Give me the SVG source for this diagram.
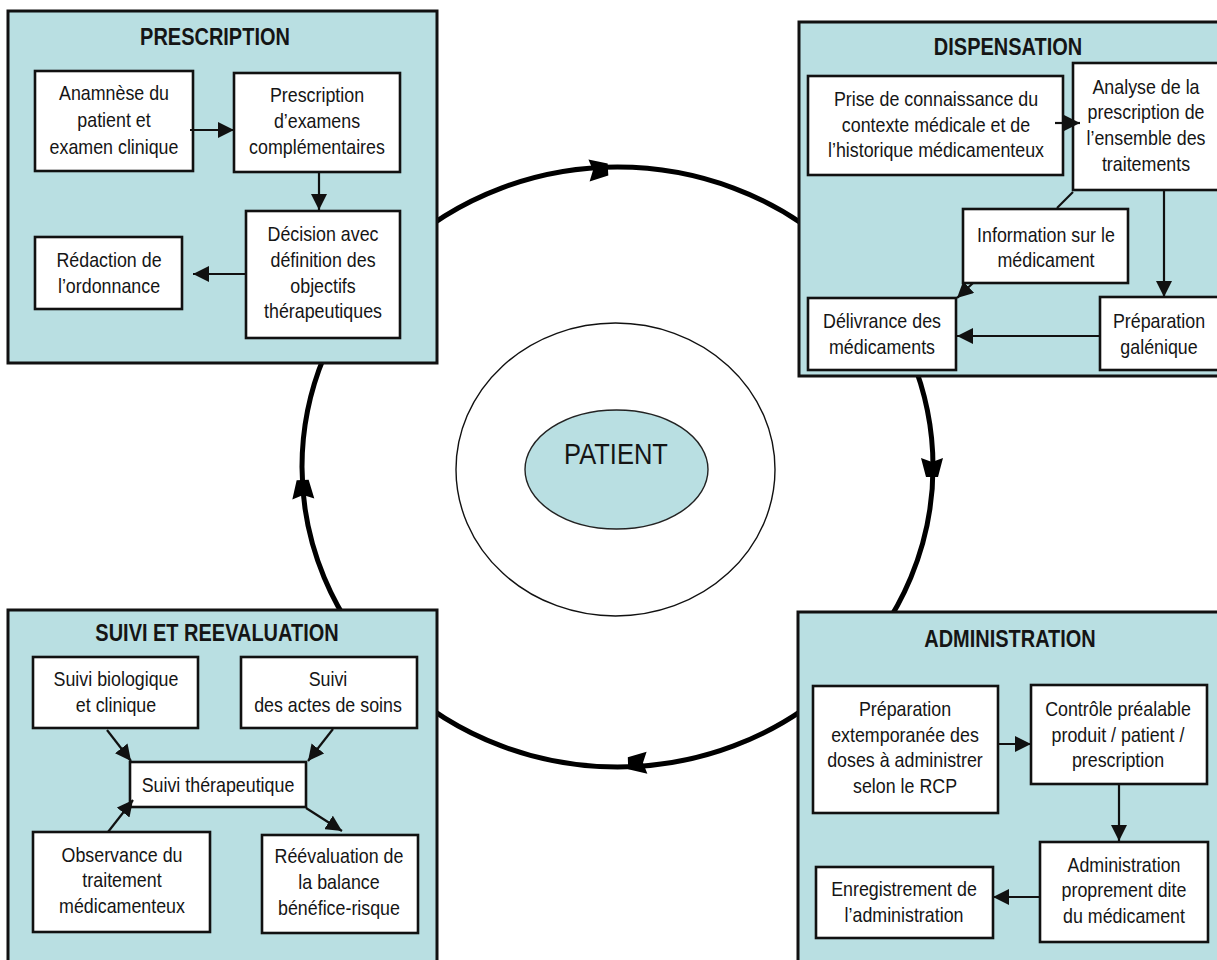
<svg xmlns="http://www.w3.org/2000/svg" width="1217" height="960" viewBox="0 0 1217 960">
<style>
.panel{fill:#b9dfe2;stroke:#111;stroke-width:3}
.box{fill:#fff;stroke:#111;stroke-width:2.6}
.t{font-family:"Liberation Sans",Arial,sans-serif;font-size:21px;fill:#151515;text-anchor:middle}
.h{font-family:"Liberation Sans",Arial,sans-serif;font-size:23.5px;font-weight:bold;fill:#151515;text-anchor:middle}
.c{stroke:#111;stroke-width:2.2;fill:none}
.ring{fill:none;stroke:#000;stroke-width:5}
</style>
<defs>
<marker id="ah" viewBox="0 0 16 16" refX="16" refY="8" markerWidth="16" markerHeight="16" markerUnits="userSpaceOnUse" orient="auto">
<path d="M0,0 L16,8 L0,16 z" fill="#111"/>
</marker>
<path id="ca" d="M-9,-11 L10,-6 L10,6 L-9,11 L-5,0 Z" fill="#000"/>
</defs>
<rect width="1217" height="960" fill="#fff"/>

<g id="cycle">
<ellipse class="ring" cx="617.5" cy="467" rx="315.5" ry="300"/>
<use href="#ca" transform="translate(598 170) rotate(-3)"/>
<use href="#ca" transform="translate(932 467) rotate(90)"/>
<use href="#ca" transform="translate(638 763) rotate(178)"/>
<use href="#ca" transform="translate(303 490) rotate(-92)"/>
</g>

<g id="patient">
<ellipse cx="615.5" cy="469.5" rx="159.5" ry="146.5" fill="#fff" stroke="#111" stroke-width="1.4"/>
<ellipse cx="616.5" cy="469.5" rx="91.5" ry="59.5" fill="#b9dfe2" stroke="#222" stroke-width="1.4"/>
<text class="t" style="font-size:30px" transform="translate(616 0) scale(.85 1)"><tspan x="0" y="464">PATIENT</tspan></text>
</g>

<g id="prescription">
<rect class="panel" x="8" y="11" width="429" height="352"/>
<text class="h" transform="translate(215 0) scale(.85 1)"><tspan x="0" y="45">PRESCRIPTION</tspan></text>
<g id="p-anamnese"><rect class="box" x="35" y="71" width="158" height="100"/>
<text class="t" transform="translate(114 0) scale(.85 1)"><tspan x="0" y="100">Anamnèse du</tspan><tspan x="0" y="127">patient et</tspan><tspan x="0" y="154">examen clinique</tspan></text></g>
<g id="p-examens"><rect class="box" x="234" y="73" width="166" height="99"/>
<text class="t" transform="translate(317 0) scale(.85 1)"><tspan x="0" y="102">Prescription</tspan><tspan x="0" y="128">d’examens</tspan><tspan x="0" y="154">complémentaires</tspan></text></g>
<g id="p-decision"><rect class="box" x="246" y="211" width="154" height="127"/>
<text class="t" transform="translate(323 0) scale(.85 1)"><tspan x="0" y="241">Décision avec</tspan><tspan x="0" y="267">définition des</tspan><tspan x="0" y="293">objectifs</tspan><tspan x="0" y="318">thérapeutiques</tspan></text></g>
<g id="p-redaction"><rect class="box" x="35" y="237" width="147" height="72"/>
<text class="t" transform="translate(109 0) scale(.85 1)"><tspan x="0" y="267">Rédaction de</tspan><tspan x="0" y="293">l’ordonnance</tspan></text></g>
</g>

<g id="dispensation">
<rect class="panel" x="799" y="22" width="430" height="354"/>
<text class="h" transform="translate(1008 0) scale(.85 1)"><tspan x="0" y="55">DISPENSATION</tspan></text>
<g id="d-prise"><rect class="box" x="808" y="76" width="255" height="99"/>
<text class="t" transform="translate(936 0) scale(.85 1)"><tspan x="0" y="106">Prise de connaissance du</tspan><tspan x="0" y="132">contexte médicale et de</tspan><tspan x="0" y="157">l’historique médicamenteux</tspan></text></g>
<g id="d-analyse"><rect class="box" x="1073" y="63" width="160" height="127"/>
<text class="t" transform="translate(1146 0) scale(.85 1)"><tspan x="0" y="94">Analyse de la</tspan><tspan x="0" y="119">prescription de</tspan><tspan x="0" y="145">l’ensemble des</tspan><tspan x="0" y="171">traitements</tspan></text></g>
<g id="d-info"><rect class="box" x="963" y="209" width="165" height="74"/>
<text class="t" transform="translate(1046 0) scale(.85 1)"><tspan x="0" y="242">Information sur le</tspan><tspan x="0" y="267">médicament</tspan></text></g>
<g id="d-delivrance"><rect class="box" x="808" y="298" width="148" height="72"/>
<text class="t" transform="translate(882 0) scale(.85 1)"><tspan x="0" y="328">Délivrance des</tspan><tspan x="0" y="354">médicaments</tspan></text></g>
<g id="d-preparation"><rect class="box" x="1100" y="297" width="130" height="73"/>
<text class="t" transform="translate(1159 0) scale(.85 1)"><tspan x="0" y="328">Préparation</tspan><tspan x="0" y="354">galénique</tspan></text></g>
</g>

<g id="suivi">
<rect class="panel" x="8" y="610" width="429" height="360"/>
<text class="h" transform="translate(217 0) scale(.85 1)"><tspan x="0" y="641">SUIVI ET REEVALUATION</tspan></text>
<g id="s-bio"><rect class="box" x="33" y="657" width="165" height="71"/>
<text class="t" transform="translate(116 0) scale(.85 1)"><tspan x="0" y="686">Suivi biologique</tspan><tspan x="0" y="712">et clinique</tspan></text></g>
<g id="s-actes"><rect class="box" x="241" y="657" width="176" height="71"/>
<text class="t" transform="translate(328 0) scale(.85 1)"><tspan x="0" y="686">Suivi</tspan><tspan x="0" y="712">des actes de soins</tspan></text></g>
<g id="s-therapeutique"><rect class="box" x="130" y="762" width="176" height="45"/>
<text class="t" transform="translate(218 0) scale(.85 1)"><tspan x="0" y="792">Suivi thérapeutique</tspan></text></g>
<g id="s-observance"><rect class="box" x="33" y="832" width="177" height="100"/>
<text class="t" transform="translate(122 0) scale(.85 1)"><tspan x="0" y="862">Observance du</tspan><tspan x="0" y="887">traitement</tspan><tspan x="0" y="913">médicamenteux</tspan></text></g>
<g id="s-reevaluation"><rect class="box" x="262" y="835" width="156" height="98"/>
<text class="t" transform="translate(339 0) scale(.85 1)"><tspan x="0" y="863">Réévaluation de</tspan><tspan x="0" y="889">la balance</tspan><tspan x="0" y="915">bénéfice-risque</tspan></text></g>
</g>

<g id="administration">
<rect class="panel" x="798" y="612" width="430" height="360"/>
<text class="h" transform="translate(1010 0) scale(.85 1)"><tspan x="0" y="647">ADMINISTRATION</tspan></text>
<g id="a-preparation"><rect class="box" x="813" y="686" width="185" height="127"/>
<text class="t" transform="translate(905 0) scale(.85 1)"><tspan x="0" y="716">Préparation</tspan><tspan x="0" y="742">extemporanée des</tspan><tspan x="0" y="767">doses à administrer</tspan><tspan x="0" y="793">selon le RCP</tspan></text></g>
<g id="a-controle"><rect class="box" x="1031" y="685" width="176" height="99"/>
<text class="t" transform="translate(1118 0) scale(.85 1)"><tspan x="0" y="716">Contrôle préalable</tspan><tspan x="0" y="742">produit / patient /</tspan><tspan x="0" y="767">prescription</tspan></text></g>
<g id="a-administration"><rect class="box" x="1040" y="842" width="168" height="100"/>
<text class="t" transform="translate(1124 0) scale(.85 1)"><tspan x="0" y="872">Administration</tspan><tspan x="0" y="897">proprement dite</tspan><tspan x="0" y="923">du médicament</tspan></text></g>
<g id="a-enregistrement"><rect class="box" x="816" y="867" width="177" height="71"/>
<text class="t" transform="translate(904 0) scale(.85 1)"><tspan x="0" y="896">Enregistrement de</tspan><tspan x="0" y="922">l’administration</tspan></text></g>
</g>

<g id="connectors">
<line class="c" x1="190" y1="130" x2="234" y2="130" marker-end="url(#ah)"/>
<line class="c" x1="319" y1="172" x2="319" y2="210" marker-end="url(#ah)"/>
<line class="c" x1="246" y1="274" x2="193" y2="274" marker-end="url(#ah)"/>
<line class="c" x1="1055" y1="123" x2="1080" y2="123" marker-end="url(#ah)"/>
<line class="c" x1="1073" y1="192" x2="1057" y2="208"/>
<line class="c" x1="973" y1="283" x2="957" y2="298" marker-end="url(#ah)"/>
<line class="c" x1="1164" y1="190" x2="1164" y2="297" marker-end="url(#ah)"/>
<line class="c" x1="1100" y1="336" x2="957" y2="336" marker-end="url(#ah)"/>
<line class="c" x1="107" y1="730" x2="131" y2="761" marker-end="url(#ah)"/>
<line class="c" x1="333" y1="729" x2="308" y2="761" marker-end="url(#ah)"/>
<line class="c" x1="108" y1="832" x2="133" y2="800" marker-end="url(#ah)"/>
<line class="c" x1="306" y1="808" x2="342" y2="831" marker-end="url(#ah)"/>
<line class="c" x1="998" y1="744" x2="1031" y2="744" marker-end="url(#ah)"/>
<line class="c" x1="1119" y1="785" x2="1119" y2="841" marker-end="url(#ah)"/>
<line class="c" x1="1040" y1="897" x2="993" y2="897" marker-end="url(#ah)"/>
</g>
</svg>
